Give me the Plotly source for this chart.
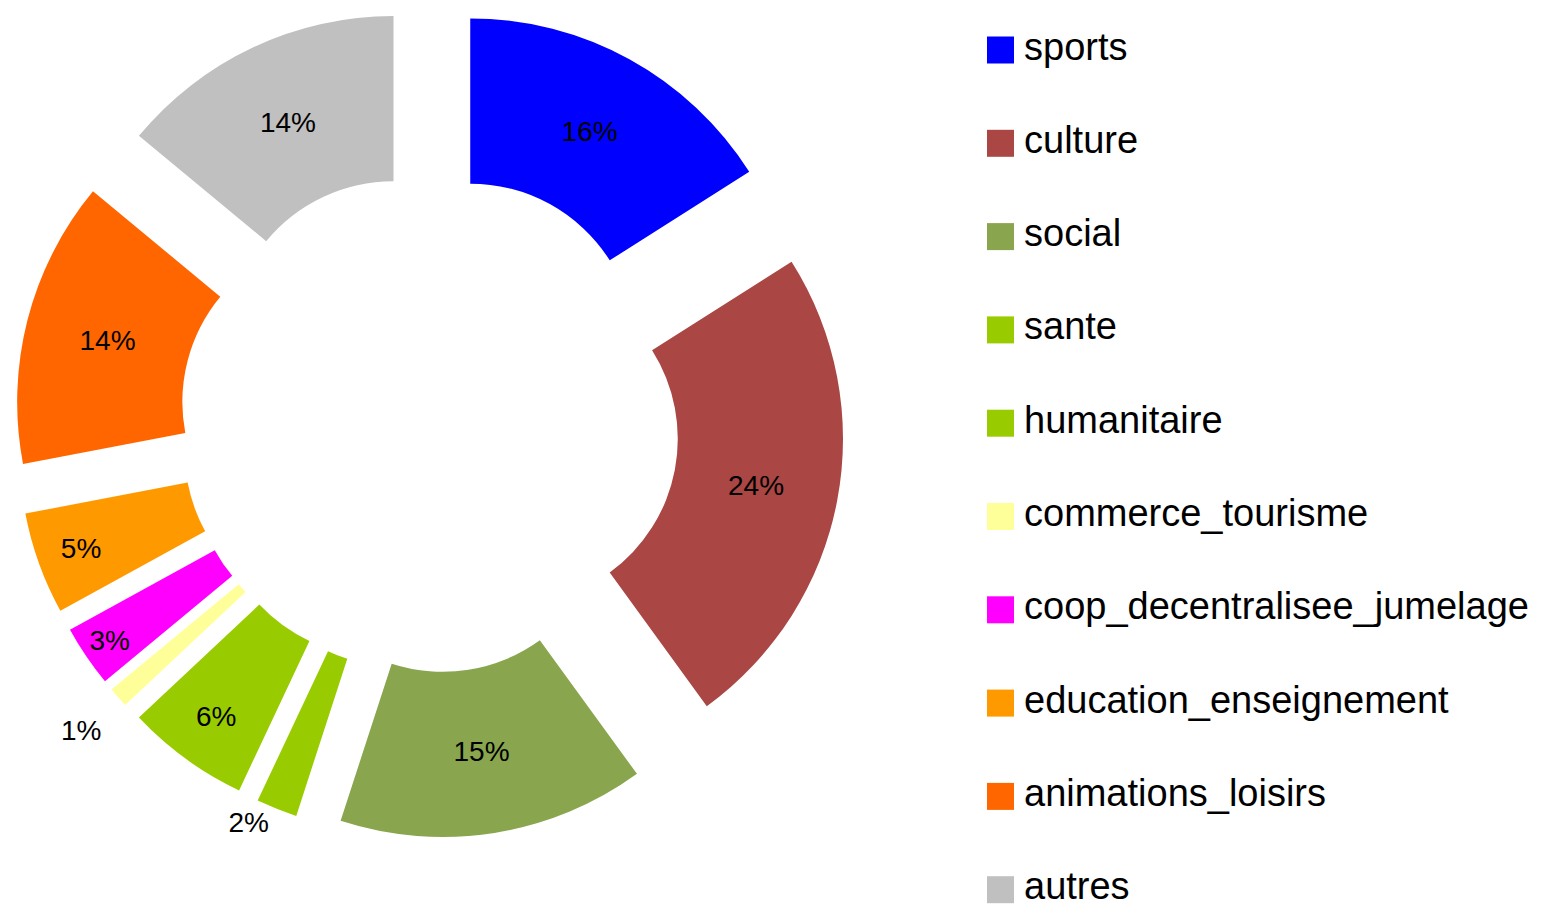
import plotly.graph_objects as go

labels = ['sports', 'culture', 'social', 'sante', 'humanitaire', 'commerce_tourisme',
          'coop_decentralisee_jumelage', 'education_enseignement', 'animations_loisirs', 'autres']
shares = [16, 24, 15, 2, 6, 1, 3, 5, 14, 14]
colors = ['#0000FF', '#AA4643', '#89A54E', '#99CC00', '#99CC00', '#FFFF99',
          '#FF00FF', '#FF9900', '#FF6600', '#C0C0C0']

W, H = 1549, 907
FONT = 'Liberation Sans, Arial, sans-serif'

# pie box in pixels (centre + half size incl. pull); page body adds 8px offset
cx, cy, half = 421.5, 415, 415

fig = go.Figure()

# tiny slices get their label outside; the 1% one sits a line lower
templates = ['\u00a0<br>%{percent:.0%}' if s < 2 else '%{percent:.0%}' for s in shares]

fig.add_trace(go.Pie(
    labels=labels,
    values=shares,
    sort=False,
    direction='clockwise',
    rotation=0,
    hole=0.5,
    pull=0.256,
    automargin=False,
    marker=dict(colors=colors, line=dict(width=0)),
    texttemplate=templates,
    textposition=['outside' if s < 3 else 'inside' for s in shares],
    insidetextorientation='horizontal',
    textfont=dict(family=FONT, size=28, color='black'),
    showlegend=False,
    domain=dict(x=[(cx - half) / W, (cx + half) / W],
                y=[max(0, 1 - (cy + half) / H), min(1, 1 - (cy - half) / H)]),
    hovertemplate='%{label}: %{percent}<extra></extra>'
))

# legend drawn by hand on a hidden pixel-scaled axis (big squares, wide spacing)
y0, step = 42, 93.3
leg_y = [y0 + i * step for i in range(len(labels))]

fig.add_trace(go.Scatter(
    x=[992.5] * len(labels), y=leg_y,
    mode='markers',
    marker=dict(symbol='square', size=27, color=colors, line=dict(width=0)),
    hoverinfo='skip', showlegend=False,
))
fig.add_trace(go.Scatter(
    x=[1016] * len(labels), y=leg_y,
    mode='text',
    text=labels,
    textposition='middle right',
    textfont=dict(family=FONT, size=38, color='black'),
    hoverinfo='skip', showlegend=False,
))

fig.update_xaxes(range=[0, W], visible=False, fixedrange=True, domain=[0, 1])
fig.update_yaxes(range=[H, 0], visible=False, fixedrange=True, domain=[0, 1])

fig.update_layout(
    width=W,
    height=H,
    margin=dict(l=0, r=0, t=0, b=0),
    paper_bgcolor='white',
    plot_bgcolor='white',
    uniformtext=dict(minsize=28, mode='show'),
)

fig.write_html("out.html")
